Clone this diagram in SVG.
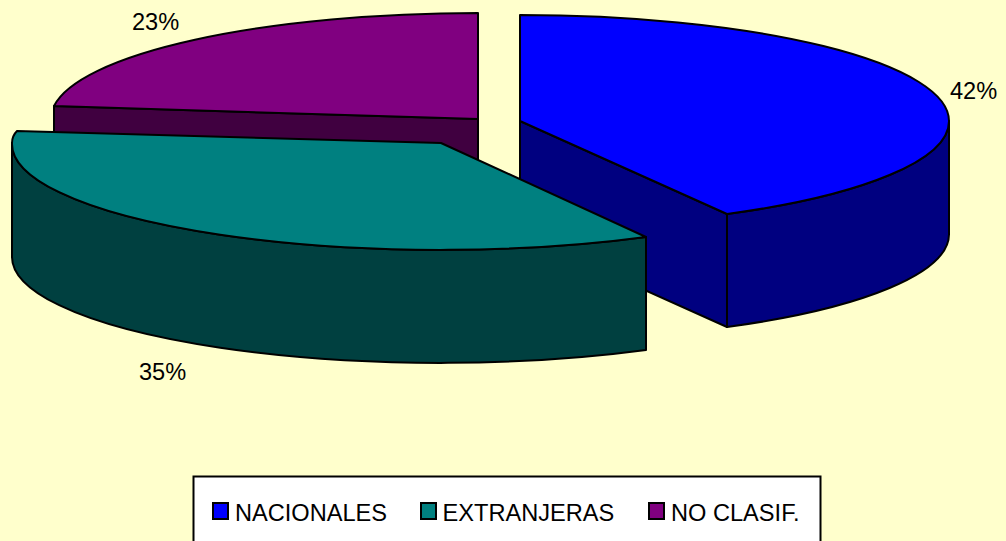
<svg xmlns="http://www.w3.org/2000/svg" width="1006" height="541" viewBox="0 0 1006 541">
<style>
.s{stroke:#000;stroke-width:2;stroke-linejoin:round}
.t{font-family:"Liberation Sans",Arial,sans-serif;font-size:23.600px;fill:#000}
.k{stroke:#000;stroke-width:2}
</style>
<rect width="1006" height="541" fill="#FFFFCC"/>
<g id="slice-noclasif">
<path class="s" fill="#400040" d="M54 106V219L478 232V119Z"/>
<path class="s" fill="#800080" d="M54 106A429 106 0 0 1 478 13V119Z"/>
<text class="t" x="132" y="30">23%</text>
</g>
<g id="slice-nacionales">
<path class="s" fill="#000080" d="M520 121V234L727 327V214Z"/>
<path class="s" fill="#000080" d="M727 214A429 106 0 0 0 949 121V234A429 106 0 0 1 727 327Z"/>
<path class="s" fill="#0000FF" d="M520 121V15A429 106 0 0 1 949 121A429 106 0 0 1 727 214Z"/>
<text class="t" x="950" y="99">42%</text>
</g>
<g id="slice-extranjeras">
<path class="s" fill="#004040" d="M646 237A429 106 0 0 1 12 143V256A429 106 0 0 0 646 350Z"/>
<path class="s" fill="#008080" d="M441 143L646 237A429 106 0 0 1 12 143Q12 136 17 131Z"/>
<text class="t" x="139" y="380">35%</text>
</g>
<g id="legend">
<rect x="193.500" y="476.500" width="627" height="70" fill="#fff" class="k"/>
<g id="legend-nacionales"><rect x="213" y="503" width="15" height="16" fill="#0000FF" class="k"/><text class="t" x="235" y="521">NACIONALES</text></g>
<g id="legend-extranjeras"><rect x="421" y="503" width="15" height="16" fill="#008080" class="k"/><text class="t" x="442.500" y="521">EXTRANJERAS</text></g>
<g id="legend-noclasif"><rect x="649" y="503" width="15" height="16" fill="#800080" class="k"/><text class="t" x="671" y="521">NO CLASIF.</text></g>
</g>
</svg>
